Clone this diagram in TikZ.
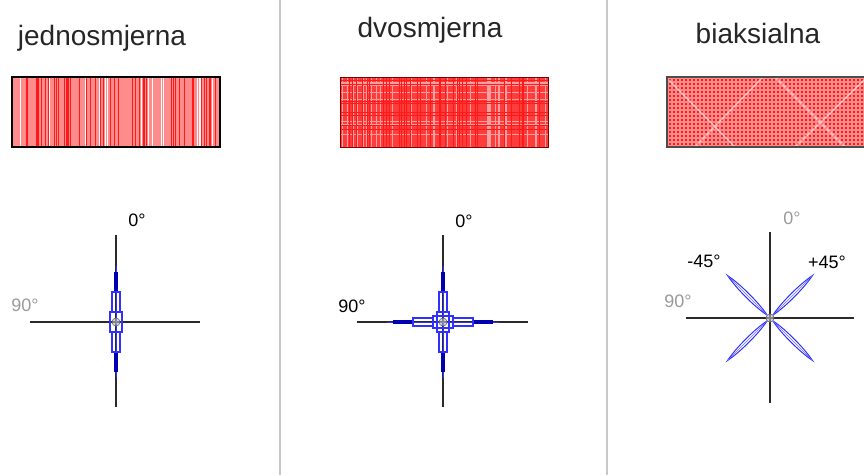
\documentclass[tikz,border=0pt]{standalone}
\usepackage{fontspec}
\setmainfont{Liberation Sans}
\usepackage{tikz}
\definecolor{FibreRed}{HTML}{FF1A1A}
\definecolor{FibreRose}{HTML}{FF8C8C}
\definecolor{FibreLight}{HTML}{FFA0A0}
\definecolor{FibreNavy}{HTML}{0000B0}
\definecolor{FibreBlue}{HTML}{3030FF}
\definecolor{AxisGrey}{HTML}{2A2A2A}
\definecolor{LabelGrey}{HTML}{9A9A9A}
\definecolor{RuleGrey}{HTML}{C8C8C8}
\tikzset{
  % Panel titles
  TT/.style={font=\fontsize{28}{30}\selectfont,text=black!85,anchor=base,inner sep=0pt},
  % Angle labels
  LB/.style={font=\fontsize{18}{20}\selectfont,text=black,inner sep=0pt},
  LG/.style={LB,text=LabelGrey},
  % Lines
  ax/.style={draw=AxisGrey,line width=1.4pt},
  sep/.style={draw=RuleGrey,line width=1.2pt},
  frm/.style={draw=black,line width=1.3pt},
  hub/.style={draw=black!60,fill=black!25,fill opacity=0.6,line width=0.6pt},
  % Fibre bundle along one direction
  snop/.pic={
    \draw[FibreBlue,line width=1pt] (-56,0) -- (56,0);
    \draw[FibreNavy,line width=4.5pt] (-50,0) -- (-30,0) (30,0) -- (50,0);
    \draw[FibreBlue,line width=1.2pt] (-30,-4) rectangle (-10,4) (10,-4) rectangle (30,4);
    \draw[FibreBlue,line width=1.2pt] (-10,-6) rectangle (10,6);
  },
  % Fibre lens of the biaxial cross
  krak/.pic={
    \draw[FibreBlue,line width=1pt] (4,0) .. controls (18,3) and (45,3) .. (60,0)
      .. controls (45,-3) and (18,-3) .. (4,0);
    \draw[FibreBlue!70,line width=0.6pt] (4,0) -- (60,0);
  }
}
\begin{document}
\begin{tikzpicture}[x=1pt,y=-1pt]
  \useasboundingbox (0,0) rectangle (864,475);
  \clip (0,0) rectangle (864,475);
  \fill[white] (0,0) rectangle (864,475);

  \draw[sep] (280,0) -- (280,475);
  \draw[sep] (607,0) -- (607,475);

  % jednosmjerna
  \node[TT] (t1) at (102,45) {jednosmjerna};
  \fill[FibreRose] (12,77) rectangle (220,147);
  \pgfmathsetseed{7}
  \foreach \i in {1,...,55}{
    \pgfmathsetmacro{\xx}{14+204*rnd}
    \draw[FibreRed,line width=0.6pt] (\xx,77) -- (\xx,147);
  }
  \foreach \i in {1,...,16}{
    \pgfmathsetmacro{\xx}{14+204*rnd}
    \draw[white,line width=1.2pt] (\xx,77) -- (\xx,147);
  }
  \draw[frm] (12,77) rectangle (220,147);

  \draw[ax] (116,235) -- (116,407);
  \draw[ax] (30,322) -- (200,322);
  \pic[rotate=90] at (116,322) {snop};
  \draw[hub] (116,322) circle (4);
  \node[LB] (n1) at (137,220) {0°};
  \node[LG] (s1) at (25,305) {90°};

  % dvosmjerna
  \node[TT] (t2) at (430,37) {dvosmjerna};
  \fill[FibreRed!85!white] (340,77) rectangle (548,147);
  \foreach \i in {1,...,30}{
    \pgfmathsetmacro{\xx}{342+204*rnd}
    \draw[FibreLight,line width=1.2pt] (\xx,77) -- (\xx,147);
  }
  \foreach \i in {1,...,8}{
    \pgfmathsetmacro{\yy}{79+66*rnd}
    \draw[FibreLight,line width=1.2pt] (340,\yy) -- (548,\yy);
  }
  \foreach \i in {1,...,40}{
    \pgfmathsetmacro{\xx}{342+204*rnd}
    \draw[FibreRed,line width=1pt] (\xx,77) -- (\xx,147);
  }
  \foreach \i in {1,...,8}{
    \pgfmathsetmacro{\yy}{79+66*rnd}
    \draw[FibreRed,line width=1pt] (340,\yy) -- (548,\yy);
  }
  \draw[draw=black!50!red,line width=0.8pt] (340,77) rectangle (548,147);

  \draw[ax] (443,235) -- (443,407);
  \draw[ax] (357,322) -- (528,322);
  \pic[rotate=90] at (443,322) {snop};
  \pic at (443,322) {snop};
  \draw[hub] (443,322) circle (4);
  \node[LB] (n2) at (464,221) {0°};
  \node[LB] (s2) at (352,306) {90°};

  % biaksialna
  \node[TT] (t3) at (758,43) {biaksialna};
  \fill[FibreRose] (667,77) rectangle (870,147);
  \foreach \y in {80,84,...,146}
    \draw[FibreRed,line width=2pt,dash pattern=on 2pt off 2pt] (669,\y) -- (870,\y);
  \draw[white,opacity=0.5,line width=1.5pt]
    (669,80) -- (735,147) (763,77) -- (695,147) (775,77) -- (845,147) (864,80) -- (795,147);
  \draw[draw=black!70,line width=1.3pt] (870,77) -- (667,77) -- (667,147) -- (870,147);

  \draw[ax] (770,232) -- (770,403);
  \draw[ax] (686,318) -- (854,318);
  \foreach \a in {45,135,225,315}
    \pic[rotate=\a] at (770,318) {krak};
  \draw[hub] (770,318) circle (4);
  \node[LG] (n3) at (792,218) {0°};
  \node[LB] (m3) at (704,261) {-45°};
  \node[LB] (p3) at (827,262) {+45°};
  \node[LG] (s3) at (678,301) {90°};
\end{tikzpicture}
\end{document}
